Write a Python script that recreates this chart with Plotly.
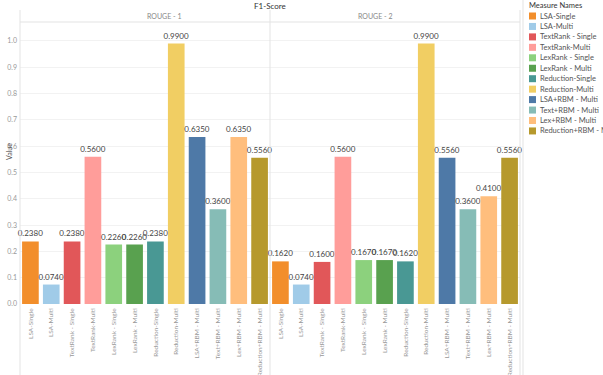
import plotly.graph_objects as go

categories = ["LSA-Single", "LSA-Multi", "TextRank - Single", "TextRank-Multi",
              "LexRank - Single", "LexRank - Multi", "Reduction-Single", "Reduction-Multi",
              "LSA+RBM - Multi", "Text+RBM - Multi", "Lex+RBM - Multi", "Reduction+RBM - Multi"]
rouge1 = [0.2380, 0.0740, 0.2380, 0.5600, 0.2260, 0.2260, 0.2380, 0.9900, 0.6350, 0.3600, 0.6350, 0.5560]
rouge2 = [0.1620, 0.0740, 0.1600, 0.5600, 0.1670, 0.1670, 0.1620, 0.9900, 0.5560, 0.3600, 0.4100, 0.5560]
colors = ["#F28E2B", "#A0CBE8", "#E15759", "#FF9D9A", "#8CD17D", "#59A14F",
          "#499894", "#F1CE63", "#4E79A7", "#86BCB6", "#FFBE7D", "#B6992D"]
facets = ["ROUGE - 1", "ROUGE - 2"]
y_ticks = [0.0, 0.1, 0.2, 0.3, 0.4, 0.5, 0.6, 0.7, 0.8, 0.9, 1.0]

W, H = 603, 375
L, R, T, B = 20, 83, 22, 71
PW, PH = W - L - R, H - T - B
FONT = "Lato"


def px_x(x):
    return (x - L) / PW


def px_y(y):
    return 1 - (y - T) / PH


fig = go.Figure()
for i, (vals, xa) in enumerate([(rouge1, "x"), (rouge2, "x2")]):
    fig.add_trace(go.Bar(
        x=categories, y=vals, xaxis=xa, yaxis="y",
        marker=dict(color=colors, line=dict(width=0)),
        texttemplate="%{y:.4f}", textposition="outside", cliponaxis=False,
        constraintext="none",
        textfont=dict(size=8, color="#444", family=FONT),
        showlegend=False, hoverinfo="x+y",
    ))

axis_common = dict(
    type="category", tickangle=-90, showgrid=False, zeroline=False, automargin=False,
    tickfont=dict(size=6.5, color="#999", family=FONT), ticks="", showline=False,
    ticklabelstandoff=2,
)
fig.update_layout(
    width=W, height=H,
    margin=dict(l=L, r=R, t=T, b=B, autoexpand=False),
    paper_bgcolor="white", plot_bgcolor="white",
    bargap=0.2,
    showlegend=False,
    xaxis=dict(domain=[0, 0.5], **axis_common),
    xaxis2=dict(domain=[0.5, 1.0], anchor="y", **axis_common),
    yaxis=dict(range=[0, 1.072], tickvals=y_ticks, ticktext=[f"{v:.1f}" for v in y_ticks],
               showgrid=True, gridcolor="#F2F2F2", gridwidth=1, zeroline=False, automargin=False,
               tickfont=dict(size=7, color="#999", family=FONT), ticks="", ticklabelstandoff=2),
)

shapes = []
line_c = "#E3E3E3"
# header band bottom line
shapes.append(dict(type="line", xref="paper", yref="paper", x0=0, x1=1, y0=1, y1=1,
                   line=dict(color=line_c, width=1)))
# vertical dividers
for xp in [L, L + PW / 2, L + PW]:
    shapes.append(dict(type="line", xref="paper", yref="paper", x0=px_x(xp), x1=px_x(xp),
                       y0=px_y(H), y1=px_y(10), line=dict(color=line_c, width=1)))
# legend divider
shapes.append(dict(type="line", xref="paper", yref="paper", x0=px_x(523), x1=px_x(523),
                   y0=px_y(H), y1=px_y(0), line=dict(color=line_c, width=1)))

annotations = [
    dict(text="F1-Score", x=px_x(270), y=px_y(6), xref="paper", yref="paper",
         showarrow=False, font=dict(size=8, color="#333", family=FONT), yanchor="middle"),
    dict(text="Value", x=px_x(3), y=px_y(152), xref="paper", yref="paper", textangle=-90,
         showarrow=False, font=dict(size=7, color="#555", family=FONT)),
    dict(text="Measure Names", x=px_x(527), y=px_y(6), xref="paper", yref="paper",
         xanchor="left", yanchor="middle", showarrow=False,
         font=dict(size=7.5, color="#333", family=FONT)),
]
for k, name in enumerate(facets):
    cx = L + PW / 4 + k * PW / 2
    annotations.append(dict(text=name, x=px_x(cx), y=px_y(16), xref="paper", yref="paper",
                            yanchor="middle", showarrow=False,
                            font=dict(size=7, color="#888", family=FONT)))

for k, (name, c) in enumerate(zip(categories, colors)):
    yc = 16 + k * 10.45
    shapes.append(dict(type="rect", xref="paper", yref="paper",
                       x0=px_x(529), x1=px_x(536), y0=px_y(yc + 3.5), y1=px_y(yc - 3.5),
                       fillcolor=c, line=dict(width=0)))
    annotations.append(dict(text=name, x=px_x(538), y=px_y(yc), xref="paper", yref="paper",
                            xanchor="left", yanchor="middle", showarrow=False,
                            font=dict(size=7.5, color="#555", family=FONT)))

fig.update_layout(shapes=shapes, annotations=annotations)
fig.write_html("out.html")
